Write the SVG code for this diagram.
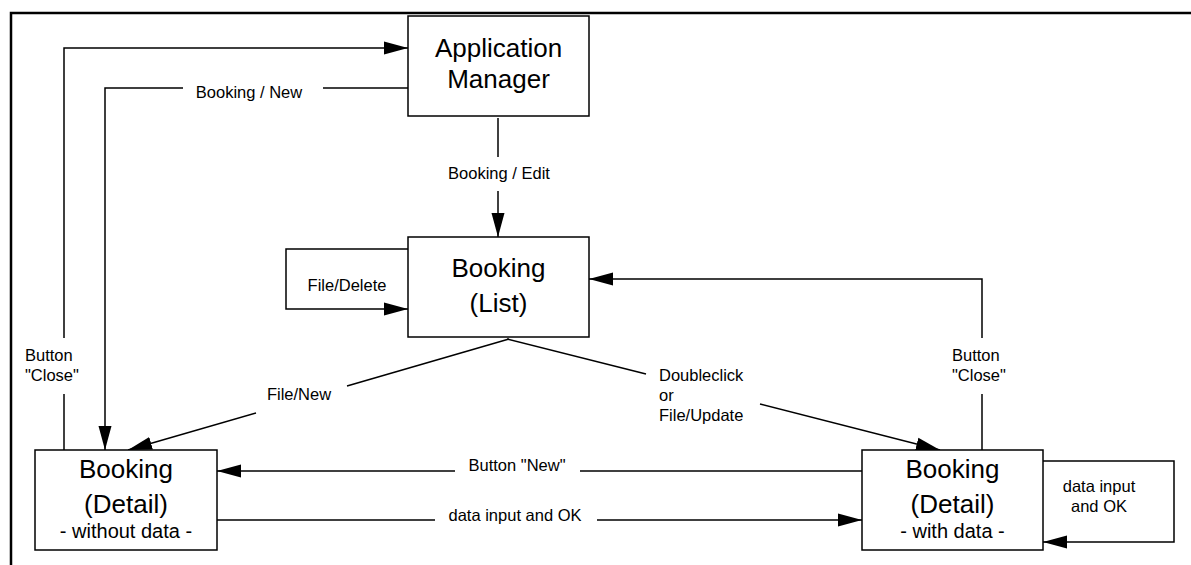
<svg xmlns="http://www.w3.org/2000/svg" width="1191" height="565" viewBox="0 0 1191 565">
  <style>
    .frame { fill: none; stroke: #000; stroke-width: 2.5; }
    .box { fill: #fff; stroke: #000; stroke-width: 1.5; }
    .conn { fill: none; stroke: #000; stroke-width: 1.5; }
    .arr { marker-end: url(#head); }
    .title { font-family: "Liberation Sans", Arial, sans-serif; font-size: 26px; fill: #000; text-anchor: middle; }
    .sub { font-family: "Liberation Sans", Arial, sans-serif; font-size: 20px; fill: #000; text-anchor: middle; }
    .lbl { font-family: "Liberation Sans", Arial, sans-serif; font-size: 16.5px; fill: #000; }
    .mid { text-anchor: middle; }
  </style>
  <defs>
    <marker id="head" markerUnits="userSpaceOnUse" markerWidth="24" markerHeight="14" refX="24" refY="7" orient="auto">
      <path d="M0,0.5 L24,7 L0,13.5 Z" fill="#000"/>
    </marker>
  </defs>

  <rect width="1191" height="565" fill="#fff"/>

  <!-- page frame -->
  <path class="frame" d="M11,565 V13 H1191"/>

  <!-- transitions -->
  <g id="connectors">
    <!-- Button "Close" (left) back to the Application Manager -->
    <path class="conn" d="M64,450 V394"/>
    <path class="conn arr" d="M64,338 V48 H408"/>
    <text class="lbl" x="25" y="361">Button</text>
    <text class="lbl" x="25" y="381">"Close"</text>

    <!-- Booking / New -->
    <path class="conn" d="M408,88 H323"/>
    <path class="conn arr" d="M183,88 H105 V450"/>
    <text class="lbl mid" x="249" y="98">Booking / New</text>

    <!-- Booking / Edit -->
    <path class="conn" d="M498,118 V157"/>
    <path class="conn arr" d="M498,191 V237"/>
    <text class="lbl mid" x="499" y="179">Booking / Edit</text>

    <!-- File/Delete self loop on the list -->
    <path class="conn arr" d="M408,249 H286 V309 H408"/>
    <text class="lbl mid" x="347" y="291">File/Delete</text>

    <!-- File/New -->
    <path class="conn" d="M509,339 L347,386"/>
    <path class="conn arr" d="M256,413 L128,450"/>
    <text class="lbl mid" x="299" y="400">File/New</text>

    <!-- Doubleclick or File/Update -->
    <path class="conn" d="M507,339 L646,374"/>
    <path class="conn arr" d="M760,404 L940,450"/>
    <text class="lbl" x="659" y="381">Doubleclick</text>
    <text class="lbl" x="659" y="401">or</text>
    <text class="lbl" x="659" y="421">File/Update</text>

    <!-- Button "Close" (right) back to the list -->
    <path class="conn" d="M982,450 V394"/>
    <path class="conn arr" d="M982,338 V279 H589"/>
    <text class="lbl" x="952" y="361">Button</text>
    <text class="lbl" x="952" y="381">"Close"</text>

    <!-- Button "New" -->
    <path class="conn" d="M862,471 H580"/>
    <path class="conn arr" d="M455,471 H217"/>
    <text class="lbl mid" x="517" y="471">Button "New"</text>

    <!-- data input and OK -->
    <path class="conn" d="M217,520 H435"/>
    <path class="conn arr" d="M597,520 H862"/>
    <text class="lbl mid" x="515" y="521">data input and OK</text>

    <!-- data input and OK self loop -->
    <path class="conn arr" d="M1043,461 H1174 V542 H1043"/>
    <text class="lbl mid" x="1099" y="492">data input</text>
    <text class="lbl mid" x="1099" y="512">and OK</text>
  </g>

  <!-- states -->
  <g id="app-manager">
    <rect class="box" x="408" y="16" width="181" height="100"/>
    <text class="title" x="498.5" y="57">Application</text>
    <text class="title" x="498.5" y="88">Manager</text>
  </g>

  <g id="booking-list">
    <rect class="box" x="408" y="237" width="181" height="100"/>
    <text class="title" x="498.5" y="277">Booking</text>
    <text class="title" x="498.5" y="312">(List)</text>
  </g>

  <g id="booking-detail-empty">
    <rect class="box" x="35" y="450" width="182" height="100"/>
    <text class="title" x="126" y="478">Booking</text>
    <text class="title" x="126" y="513">(Detail)</text>
    <text class="sub" x="126" y="538">- without data -</text>
  </g>

  <g id="booking-detail-filled">
    <rect class="box" x="862" y="450" width="181" height="100"/>
    <text class="title" x="952.5" y="478">Booking</text>
    <text class="title" x="952.5" y="513">(Detail)</text>
    <text class="sub" x="952.5" y="538">- with data -</text>
  </g>
</svg>
